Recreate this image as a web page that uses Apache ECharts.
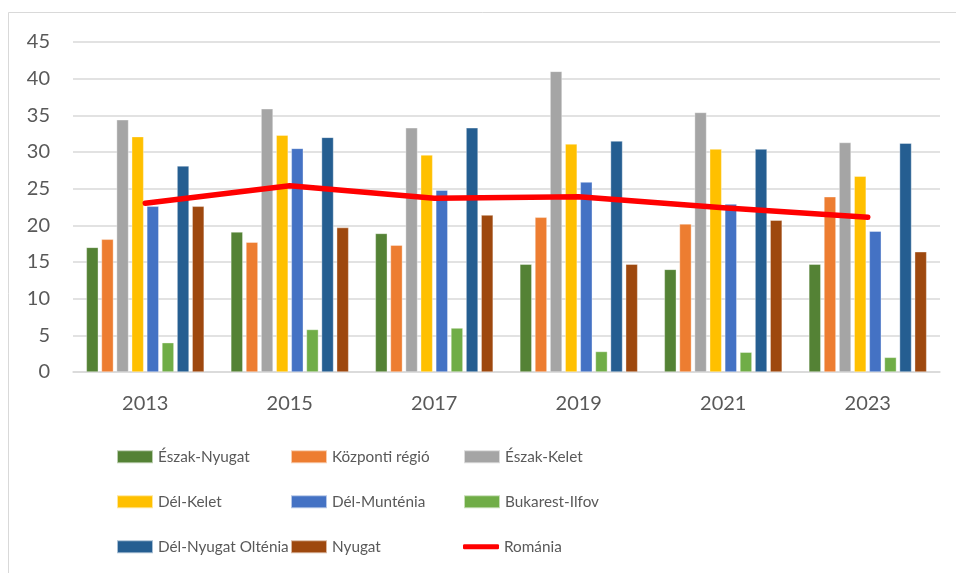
<!DOCTYPE html>
<html>
<head>
<meta charset="utf-8">
<script src="https://cdn.jsdelivr.net/npm/echarts@6/dist/echarts.min.js"></script>
<style>html,body{margin:0;padding:0;background:#fff}#c{width:956px;height:573px}</style>
</head>
<body>
<div id="c"></div>
<script>
const years = ['2013', '2015', '2017', '2019', '2021', '2023'];
const yTicks = [0, 5, 10, 15, 20, 25, 30, 35, 40, 45];
const eszakNyugat = [17.0, 19.1, 18.9, 14.7, 14.0, 14.7];
const kozpontiRegio = [18.1, 17.7, 17.3, 21.1, 20.2, 23.9];
const eszakKelet = [34.4, 35.9, 33.3, 41.0, 35.4, 31.3];
const delKelet = [32.1, 32.3, 29.6, 31.1, 30.4, 26.7];
const delMuntenia = [22.6, 30.5, 24.8, 25.9, 22.9, 19.2];
const bukarestIlfov = [4.0, 5.8, 6.0, 2.8, 2.7, 2.0];
const delNyugatOltenia = [28.1, 32.0, 33.3, 31.5, 30.4, 31.2];
const nyugat = [22.6, 19.7, 21.4, 14.7, 20.7, 16.4];
const romania = [23.0, 25.4, 23.7, 23.9, 22.4, 21.1];

const barSeries = [
  ['Észak-Nyugat', eszakNyugat, '#548235'],
  ['Központi régió', kozpontiRegio, '#ED7D31'],
  ['Észak-Kelet', eszakKelet, '#A5A5A5'],
  ['Dél-Kelet', delKelet, '#FFC000'],
  ['Dél-Munténia', delMuntenia, '#4472C4'],
  ['Bukarest-Ilfov', bukarestIlfov, '#70AD47'],
  ['Dél-Nyugat Olténia', delNyugatOltenia, '#255E91'],
  ['Nyugat', nyugat, '#9E480E']
];

const FONT = 'Lato';
const TXT = '#595959';

const series = barSeries.map(([name, data, color]) => ({
  name, type: 'bar', data, barWidth: 12, barGap: '26%',
  itemStyle: { color, borderColor: 'rgba(255,255,255,0.6)', borderWidth: 0.6 }
}));
series.push({
  name: 'Románia', type: 'line', data: romania, symbol: 'none', z: 5,
  lineStyle: { color: '#FF0000', width: 5.5, cap: 'round', join: 'round' },
  itemStyle: { color: '#FF0000' }
});

const legendLayout = [
  ['Észak-Nyugat', 116, 0], ['Központi régió', 290, 0], ['Észak-Kelet', 463, 0],
  ['Dél-Kelet', 116, 1], ['Dél-Munténia', 290, 1], ['Bukarest-Ilfov', 463, 1],
  ['Dél-Nyugat Olténia', 116, 2], ['Nyugat', 290, 2], ['Románia', 463, 2]
];
const rowCenters = [458, 503, 548];
const FS = 15.3;
const legends = legendLayout.map(([name, x, r]) => {
  const isLine = name === 'Románia';
  return {
    data: [{ name, icon: isLine ? 'roundRect' : 'rect' }],
    left: x, top: rowCenters[r] - FS / 2 - 1, itemWidth: 36, itemHeight: isLine ? 5 : 13,
    itemGap: 4, selectedMode: false,
    textStyle: { fontFamily: FONT, fontSize: FS, color: TXT },
    padding: 0
  };
});

const chart = echarts.init(document.getElementById('c'), null, { renderer: 'canvas' });
chart.setOption({
  animation: false,
  backgroundColor: '#fff',
  graphic: [{
    type: 'rect', shape: { x: 8.5, y: 12.5, width: 1000, height: 700 },
    style: { fill: 'none', stroke: '#d9d9d9', lineWidth: 1 }, silent: true
  }],
  legend: legends,
  grid: { left: 73, right: 16, top: 42, bottom: 201, containLabel: false },
  xAxis: {
    type: 'category', data: years,
    axisLine: { lineStyle: { color: '#d9d9d9', width: 1.5 } },
    axisTick: { show: false },
    axisLabel: { fontFamily: FONT, fontSize: 20, color: TXT, margin: 22 }
  },
  yAxis: {
    type: 'value', min: yTicks[0], max: yTicks[yTicks.length - 1], interval: 5,
    axisLine: { show: false }, axisTick: { show: false },
    splitLine: { lineStyle: { color: '#d9d9d9', width: 1.5 } },
    axisLabel: { fontFamily: FONT, fontSize: 20, color: TXT, margin: 23 }
  },
  series
});
</script>
</body>
</html>
